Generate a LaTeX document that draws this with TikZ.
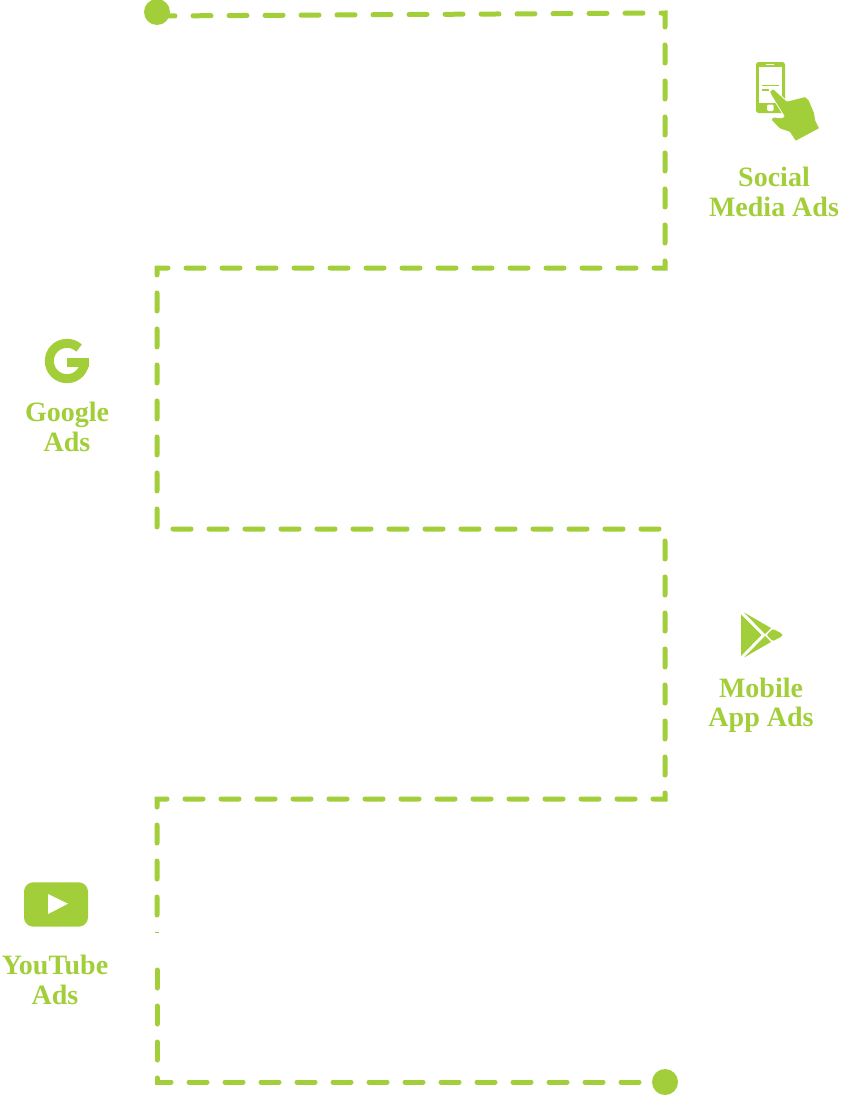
\documentclass[tikz,border=0pt]{standalone}
\usepackage{fontspec}
\setmainfont{Liberation Serif}
\definecolor{adgreen}{HTML}{A2CE39}
\tikzset{
  trail/.style={draw=adgreen,line width=3.75pt,line cap=round,dash pattern=on 13.5pt off 13.5pt},
  enddot/.style={circle,fill=adgreen,inner sep=0pt,minimum size=19.5pt},
  adlabel/.style={inner sep=0pt,text=adgreen,font=\fontsize{21}{22}\selectfont\bfseries,align=center},
}
\begin{document}
\begin{tikzpicture}[x=0.75pt,y=0.75pt,yscale=-1,xscale=1]
\useasboundingbox (0,0) rectangle (840,1096);

% Trail
\node [enddot] (start) at (157,12) {};
\node [enddot] (finish) at (665,1082) {};
\coordinate (c0) at (157,16);
\coordinate (c1) at (665,13);
\coordinate (c2) at (665,268);
\coordinate (c3) at (157,268);
\coordinate (c4) at (157,529);
\coordinate (c5) at (665,529);
\coordinate (c6) at (665,799);
\coordinate (c7) at (157,799);
\coordinate (c8) at (157,916);
\coordinate (c9) at (157,970);
\coordinate (c10) at (157,1082);
\draw [trail] (c0) -- (c1) -- (c2) -- (c3) -- (c4) -- (c5) -- (c6) -- (c7) -- (c8);
\draw [trail] (c9) -- (c10) -- (finish);
\draw [adgreen,line width=0.75pt] (155,932.5) -- (159,932.5);

% Phone
\fill [adgreen,rounded corners=2pt] (756,62) rectangle (785,113);
\fill [white] (759,67) rectangle (782,103);
\fill [white,rounded corners=1pt] (767,104.5) rectangle (773.6,111);
\draw [white,line width=0.8pt] (766,64.3) -- (774,64.3);
\draw [adgreen,line width=1pt] (762.3,85.7) -- (779,85.7);
\draw [adgreen,line width=1pt] (762.3,90) -- (769.3,90);
\filldraw [fill=adgreen,draw=white,line width=0.6pt,rounded corners=0.6pt] (773.3,88.6) -- (787,101.2) -- (805,96.6) -- (808.8,99.6) -- (814.5,113) -- (815.5,120) -- (819.6,128.5) -- (795.5,141.4) -- (789.6,132.2) -- (779.6,128.8) -- (771,120) -- (773,117) -- (781.5,117.8) -- (784.3,116.5) -- (771,95) -- (769.5,91.5) -- cycle;

% Google
\draw [adgreen,line width=6.75pt] (67,361) ++(-47:17.7) arc [start angle=-47,end angle=-362,radius=17.7];
\fill [adgreen] (67.3,357.7) rectangle (89.3,366.7);

% Play
\fill [adgreen] (741,614.5) -- (741,656) -- (761.5,635) -- cycle;
\fill [adgreen] (744,612.5) -- (771,628) -- (765,634) -- cycle;
\fill [adgreen] (744,657.5) -- (771,642) -- (765,636) -- cycle;
\fill [adgreen,rounded corners=0.8pt] (766.7,635) -- (772.7,629) -- (780,632.5) -- (783,635) -- (780,637.5) -- (772.7,641) -- cycle;

% YouTube
\fill [adgreen,rounded corners=7pt] (24,882.3) rectangle (88,926.7);
\fill [white] (48,894) -- (48,914) -- (68,903.7) -- cycle;

% Labels
\node [adlabel] (social) at (774,192) {Social\\Media Ads};
\node [adlabel] (google) at (67,427) {Google\\Ads};
\node [adlabel] (mobile) at (761,705) {Mobile\\App Ads};
\node [adlabel] (youtube) at (55,980) {YouTube\\Ads};
\end{tikzpicture}
\end{document}
